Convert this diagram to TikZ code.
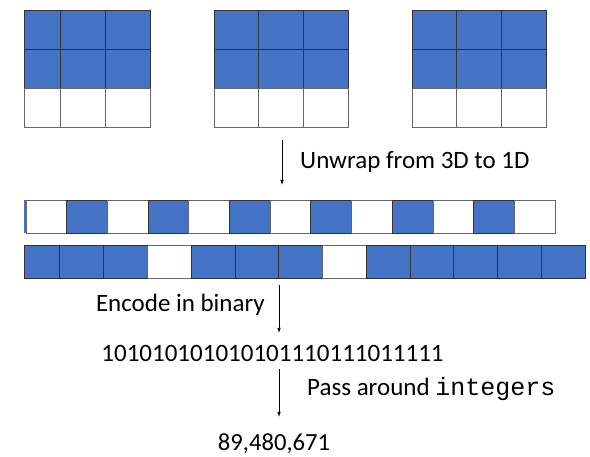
\documentclass[tikz,border=0pt]{standalone}
\usepackage{fontspec}
\setmainfont{Carlito}
\setmonofont{Liberation Mono}
\usetikzlibrary{arrows.meta}
\definecolor{cellblue}{HTML}{4472C4}
\tikzset{
  bluecell/.style={fill=cellblue,draw=black!80,line width=0.7pt},
  whitecell/.style={fill=white,draw=black!60,line width=0.7pt},
  lbl/.style={font=\fontsize{25}{30}\selectfont,inner sep=0pt},
  flow/.style={draw=black,line width=0.7pt,-{Latex[length=5pt,width=3.5pt]}}
}
\begin{document}
\begin{tikzpicture}[x=1pt,y=-1pt]
\useasboundingbox (0,0) rectangle (590,457);
% 3x3 grids
\foreach \a/\b/\c/\d in {24/60/105/150, 214/258/303/348, 412/456/501/546}{
  \foreach \l/\r in {\a/\b,\b/\c,\c/\d}{
    \draw[bluecell] (\l,10) rectangle (\r,49);
    \draw[bluecell] (\l,49) rectangle (\r,88);
    \draw[whitecell] (\l,88) rectangle (\r,127);
  }
}
% strip 1
\fill[cellblue] (24,200) rectangle (26,233);
\foreach \i in {0,...,12}{
  \pgfmathsetmacro{\xl}{26+40.69*\i}
  \pgfmathsetmacro{\xr}{26+40.69*(\i+1)}
  \ifodd\i
    \draw[bluecell] (\xl,200) rectangle (\xr,233);
  \else
    \draw[whitecell] (\xl,200) rectangle (\xr,233);
  \fi
}
% strip 2
\foreach \l/\r/\s in {24/59/bluecell,59/103/bluecell,103/147/bluecell,147/191/whitecell,191/235/bluecell,235/278/bluecell,278/322/bluecell,322/366/whitecell,366/410/bluecell,410/453/bluecell,453/497/bluecell,497/541/bluecell,541/585/bluecell}{
  \draw[\s] (\l,245) rectangle (\r,278);
}
% texts
\node[lbl,anchor=west] (unwrap) at (300,162) {Unwrap from 3D to 1D};
\node[lbl,anchor=east] (encode) at (265,305) {Encode in binary};
\node[lbl] (binary) at (272.5,353) {101010101010101110111011111};
\node[lbl,anchor=west] (pass) at (307,389) {Pass around \texttt{integers}};
\node[lbl,font=\fontsize{24.6}{28}\selectfont] (int) at (274,444) {89,480,671};
% arrows
\coordinate (a1s) at (282,140);
\coordinate (a1e) at (282,185);
\coordinate (a2s) at (279,285);
\coordinate (a2e) at (279,333);
\coordinate (a3s) at (279,369);
\coordinate (a3e) at (279,417);
\draw[flow] (a1s) -- (a1e);
\draw[flow] (a2s) -- (a2e);
\draw[flow] (a3s) -- (a3e);
\end{tikzpicture}
\end{document}
